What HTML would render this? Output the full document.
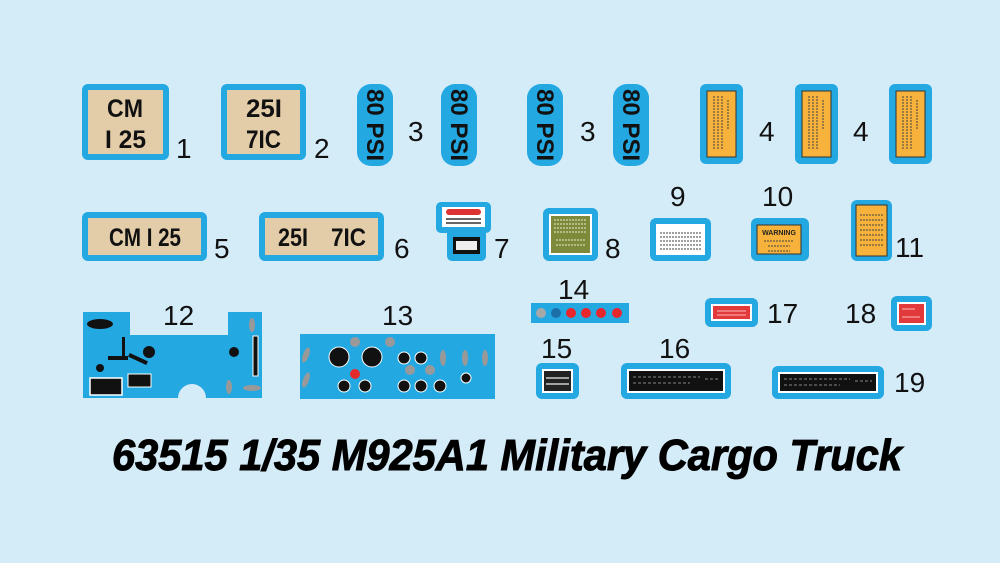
<!DOCTYPE html>
<html><head><meta charset="utf-8"><style>
html,body{margin:0;padding:0;background:#d4ebf8;}
svg{display:block}
.n{font-family:"Liberation Sans",sans-serif;font-size:28px;fill:#111}
.s{font-family:"Liberation Sans",sans-serif;font-weight:bold;fill:#111}
</style></head><body>
<svg width="1000" height="563" viewBox="0 0 1000 563" xmlns="http://www.w3.org/2000/svg">
<rect width="1000" height="563" fill="#d4ebf8"/>
<g fill="#23a8e2">
<rect x="82" y="84" width="87" height="76" rx="6"/>
<rect x="221" y="84" width="85" height="76" rx="6"/>
<rect x="357" y="84" width="36" height="82" rx="14"/>
<rect x="441" y="84" width="36" height="82" rx="14"/>
<rect x="527" y="84" width="36" height="82" rx="14"/>
<rect x="613" y="84" width="36" height="82" rx="14"/>
<rect x="700" y="84" width="43" height="80" rx="6"/>
<rect x="795" y="84" width="43" height="80" rx="6"/>
<rect x="889" y="84" width="43" height="80" rx="6"/>
<rect x="82" y="212" width="125" height="49" rx="6"/>
<rect x="259" y="212" width="125" height="49" rx="6"/>
<rect x="436" y="202" width="55" height="31" rx="5"/>
<rect x="447" y="228" width="39" height="33" rx="5"/>
<rect x="543" y="208" width="55" height="53" rx="6"/>
<rect x="650" y="218" width="61" height="43" rx="6"/>
<rect x="751" y="218" width="58" height="43" rx="6"/>
<rect x="851" y="200" width="41" height="61" rx="6"/>
<path d="M83 312 H130 V335 H228 V312 H262 V398 H206 A14 14 0 0 0 178 398 H83 Z" fill="#23a8e2"/>
<rect x="300" y="334" width="195" height="65"/>
<rect x="531" y="303" width="98" height="20"/>
<rect x="536" y="363" width="43" height="36" rx="6"/>
<rect x="621" y="363" width="110" height="36" rx="6"/>
<rect x="705" y="298" width="53" height="29" rx="6"/>
<rect x="891" y="296" width="41" height="35" rx="6"/>
<rect x="772" y="366" width="112" height="33" rx="6"/>
</g>
<g fill="#e3cca8">
<rect x="88" y="90" width="75" height="64"/>
<rect x="227" y="90" width="73" height="64"/>
<rect x="88" y="218" width="113" height="37"/>
<rect x="265" y="218" width="113" height="37"/>
</g>
<g class="s" font-size="25" lengthAdjust="spacingAndGlyphs">
<text x="107" y="117" textLength="36" lengthAdjust="spacingAndGlyphs">CM</text>
<text x="105" y="148" textLength="41" lengthAdjust="spacingAndGlyphs">I 25</text>
<text x="246" y="117" textLength="36" lengthAdjust="spacingAndGlyphs">25I</text>
<text x="246" y="148" textLength="35" lengthAdjust="spacingAndGlyphs">7IC</text>
<text x="109" y="246" textLength="72" lengthAdjust="spacingAndGlyphs">CM I 25</text>
<text x="278" y="246" textLength="30" lengthAdjust="spacingAndGlyphs">25I</text>
<text x="331" y="246" textLength="35" lengthAdjust="spacingAndGlyphs">7IC</text>
</g>
<g class="s" font-size="24" text-anchor="middle">
<text transform="translate(375,125) rotate(90)" y="8">80 PSI</text>
<text transform="translate(459,125) rotate(90)" y="8">80 PSI</text>
<text transform="translate(545,125) rotate(90)" y="8">80 PSI</text>
<text transform="translate(631,125) rotate(90)" y="8">80 PSI</text>
</g>
<g fill="#f6b23a" stroke="#333" stroke-width="1">
<rect x="707" y="91" width="29" height="66"/>
<rect x="802" y="91" width="29" height="66"/>
<rect x="896" y="91" width="29" height="66"/>
<rect x="757" y="225" width="44" height="29"/>
<rect x="856" y="205" width="31" height="51"/>
</g>
<g stroke="#444" stroke-width="1" stroke-dasharray="2 1">
<path d="M714 96V150M718 96V150M722 96V150M728 100V130M809 96V150M813 96V150M817 96V150M823 100V130M903 96V150M907 96V150M911 96V150M917 100V130"/>
<path d="M860 215H883M860 220H883M860 225H883M860 230H883M860 235H883M860 240H883M860 245H883"/>
<path d="M764 241H794M768 246H790M768 251H790"/>
</g>
<text x="779" y="235" font-size="7" font-weight="bold" font-family="Liberation Sans" text-anchor="middle" fill="#222">WARNING</text>
<rect x="442" y="207" width="43" height="20" fill="#fff"/>
<rect x="446" y="209" width="35" height="6" rx="3" fill="#d33"/>
<path d="M446 219H481M446 223H481" stroke="#333" stroke-width="1.5"/>
<rect x="453" y="237" width="27" height="17" fill="#111"/>
<rect x="456" y="241" width="21" height="9" fill="#eee"/>
<rect x="549" y="214" width="43" height="41" fill="#fff"/>
<rect x="551" y="216" width="39" height="37" fill="#7c8a3a"/>
<path d="M554 220H587M554 224H587M554 228H587M554 232H587M556 240H585M556 245H585" stroke="#d8d8b0" stroke-width="1.2" stroke-dasharray="2 1"/>
<rect x="656" y="224" width="49" height="31" fill="#fff"/>
<path d="M660 233H701M660 237H701M660 241H701M660 245H701M660 249H701" stroke="#666" stroke-width="1.2" stroke-dasharray="2 1"/>
<g fill="#111">
<ellipse cx="100" cy="324" rx="13" ry="5"/>
<rect x="122" y="337" width="3" height="20"/>
<rect x="108" y="356" width="20" height="4"/>
<rect x="128" y="357" width="20" height="4" transform="rotate(25 138 359)"/>
<circle cx="149" cy="352" r="6"/><circle cx="100" cy="368" r="4"/>
<circle cx="234" cy="352" r="5"/>
<rect x="90" y="378" width="32" height="17" stroke="#fff" stroke-width="1.5"/>
<rect x="128" y="374" width="23" height="13" stroke="#fff" stroke-width="1"/>
<rect x="253" y="336" width="5" height="40" stroke="#fff" stroke-width="1"/>
</g>
<g fill="#999">
<ellipse cx="252" cy="325" rx="3" ry="7"/><ellipse cx="229" cy="387" rx="3" ry="7"/><ellipse cx="252" cy="388" rx="9" ry="3"/>
<ellipse cx="306" cy="355" rx="3" ry="8" transform="rotate(20 306 355)"/><ellipse cx="306" cy="380" rx="3" ry="8" transform="rotate(20 306 380)"/>
<circle cx="355" cy="342" r="5"/><circle cx="390" cy="342" r="5"/><circle cx="410" cy="370" r="5"/><circle cx="430" cy="370" r="5"/>
<ellipse cx="443" cy="358" rx="3" ry="8"/><ellipse cx="465" cy="358" rx="3" ry="8"/><ellipse cx="485" cy="358" rx="3" ry="8"/>
</g>
<g fill="#111" stroke="#fff" stroke-width="1">
<circle cx="339" cy="357" r="10"/><circle cx="372" cy="357" r="10"/>
<circle cx="404" cy="358" r="6"/><circle cx="421" cy="358" r="6"/>
<circle cx="344" cy="386" r="6"/><circle cx="365" cy="386" r="6"/>
<circle cx="404" cy="386" r="6"/><circle cx="421" cy="386" r="6"/><circle cx="440" cy="386" r="6"/>
<circle cx="466" cy="378" r="5"/>
</g>
<circle cx="355" cy="374" r="5" fill="#e42b2b"/>
<circle cx="541" cy="313" r="5" fill="#a8a8a8"/><circle cx="556" cy="313" r="5" fill="#1d6fa8"/>
<g fill="#e8262c"><circle cx="571" cy="313" r="5"/><circle cx="586" cy="313" r="5"/><circle cx="601" cy="313" r="5"/><circle cx="617" cy="313" r="5"/></g>
<rect x="542" y="369" width="31" height="24" fill="#fff"/><rect x="544" y="371" width="27" height="20" fill="#222"/>
<path d="M546 378H569M546 384H569" stroke="#ccc" stroke-width="1.5"/>
<rect x="627" y="369" width="98" height="24" fill="#fff"/><rect x="629" y="371" width="94" height="20" fill="#111"/>
<path d="M633 377H700M633 383H690M705 379H720" stroke="#888" stroke-width="1" stroke-dasharray="3 2"/>
<rect x="778" y="372" width="100" height="21" fill="#fff"/><rect x="780" y="374" width="96" height="17" fill="#111"/>
<path d="M784 379H850M784 385H840M855 381H872" stroke="#888" stroke-width="1" stroke-dasharray="3 2"/>
<rect x="711" y="304" width="41" height="17" fill="#fff"/><rect x="713" y="306" width="37" height="13" fill="#e23a3a"/>
<rect x="897" y="302" width="29" height="23" fill="#fff"/><rect x="899" y="304" width="25" height="19" fill="#e23a3a"/>
<path d="M717 311H746M717 315H746M902 309H915M902 317H920" stroke="#fbb" stroke-width="1"/>
<g class="n">
<text x="176" y="158">1</text><text x="314" y="158">2</text>
<text x="408" y="141">3</text><text x="580" y="141">3</text>
<text x="759" y="141">4</text><text x="853" y="141">4</text>
<text x="214" y="258">5</text><text x="394" y="258">6</text><text x="494" y="258">7</text><text x="605" y="258">8</text>
<text x="670" y="206">9</text><text x="762" y="206">10</text><text x="895" y="257">11</text>
<text x="163" y="325">12</text><text x="382" y="325">13</text>
<text x="558" y="299">14</text><text x="767" y="323">17</text><text x="845" y="323">18</text>
<text x="541" y="358">15</text><text x="659" y="358">16</text><text x="894" y="392">19</text>
</g>
<text x="112" y="470" textLength="790" lengthAdjust="spacingAndGlyphs" font-family="Liberation Sans" font-weight="bold" font-style="italic" font-size="44" fill="#000" stroke="#000" stroke-width="1">63515 1/35 M925A1 Military Cargo Truck</text>
</svg>
</body></html>
